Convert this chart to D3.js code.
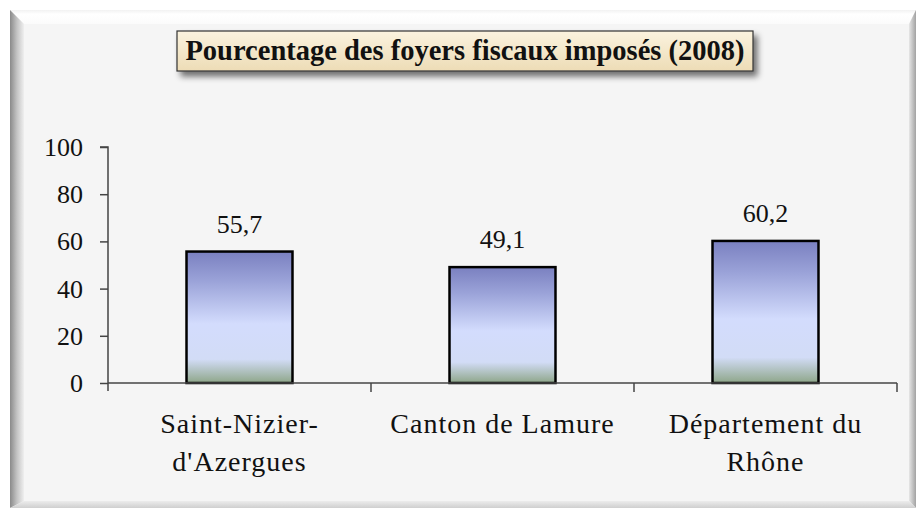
<!DOCTYPE html>
<html>
<head>
<meta charset="utf-8">
<script src="https://cdn.jsdelivr.net/npm/d3@7"></script>
<style>
  html, body { margin: 0; padding: 0; background: #ffffff; }
  svg { display: block; }
  text { font-family: "Liberation Serif", "DejaVu Serif", serif; fill: #111; }
</style>
</head>
<body>
<svg id="chart" width="917" height="509"></svg>
<script>
const title = "Pourcentage des foyers fiscaux imposés (2008)";
const categories = [["Saint-Nizier-", "d'Azergues"], ["Canton de Lamure"], ["Département du", "Rhône"]];
const values = [55.7, 49.1, 60.2];
const valueLabels = ["55,7", "49,1", "60,2"];
const yTicks = [0, 20, 40, 60, 80, 100];

const svg = d3.select("#chart");
const defs = svg.append("defs");

// gradients
const barGrad = defs.append("linearGradient").attr("id", "barGrad").attr("x1", 0).attr("y1", 0).attr("x2", 0).attr("y2", 1);
[[0, "#7a80c0"], [0.22, "#9aa2d8"], [0.55, "#d3dcfd"], [0.82, "#d2dcf6"], [1, "#8ea689"]].forEach(([o, c]) =>
  barGrad.append("stop").attr("offset", o).attr("stop-color", c));

const titleGrad = defs.append("linearGradient").attr("id", "titleGrad").attr("x1", 0).attr("y1", 0).attr("x2", 0).attr("y2", 1);
[[0, "#fbf3df"], [1, "#eddcb6"]].forEach(([o, c]) => titleGrad.append("stop").attr("offset", o).attr("stop-color", c));

const leftGrad = defs.append("linearGradient").attr("id", "leftGrad").attr("x1", 0).attr("y1", 0).attr("x2", 1).attr("y2", 0);
[[0, "#8a8a8a"], [0.5, "#c4c4c4"], [1, "#efefef"]].forEach(([o, c]) => leftGrad.append("stop").attr("offset", o).attr("stop-color", c));
const rightGrad = defs.append("linearGradient").attr("id", "rightGrad").attr("x1", 0).attr("y1", 0).attr("x2", 1).attr("y2", 0);
[[0, "#e6e6e6"], [1, "#a2a2a2"]].forEach(([o, c]) => rightGrad.append("stop").attr("offset", o).attr("stop-color", c));
const bottomGrad = defs.append("linearGradient").attr("id", "bottomGrad").attr("x1", 0).attr("y1", 0).attr("x2", 0).attr("y2", 1);
[[0, "#ececec"], [1, "#cfcfcf"]].forEach(([o, c]) => bottomGrad.append("stop").attr("offset", o).attr("stop-color", c));
const topGrad = defs.append("linearGradient").attr("id", "topGrad").attr("x1", 0).attr("y1", 0).attr("x2", 0).attr("y2", 1);
[[0, "#f2f2f2"], [0.3, "#ffffff"], [1, "#fbfbfb"]].forEach(([o, c]) => topGrad.append("stop").attr("offset", o).attr("stop-color", c));

const shadow = defs.append("filter").attr("id", "shadow").attr("x", "-10%").attr("y", "-30%").attr("width", "130%").attr("height", "190%");
shadow.append("feGaussianBlur").attr("in", "SourceAlpha").attr("stdDeviation", 3);
shadow.append("feOffset").attr("dx", 4).attr("dy", 5).attr("result", "ob");
shadow.append("feComponentTransfer").append("feFuncA").attr("type", "linear").attr("slope", 0.55);
const merge = shadow.append("feMerge");
merge.append("feMergeNode");
merge.append("feMergeNode").attr("in", "SourceGraphic");

// frame
const L = 10, T = 10, R = 916, B = 508, bl = 14, bt = 14, br = 7, bb = 7;
svg.append("rect").attr("x", L).attr("y", T).attr("width", R - L).attr("height", B - T).attr("fill", "#f5f5f5");
svg.append("polygon").attr("points", [[L, T], [R, T], [R - br, T + bt], [L + bl, T + bt]].join(" ")).attr("fill", "url(#topGrad)");
svg.append("polygon").attr("points", [[L, T], [L + bl, T + bt], [L + bl, B - bb], [L, B]].join(" ")).attr("fill", "url(#leftGrad)");
svg.append("polygon").attr("points", [[R, T], [R, B], [R - br, B - bb], [R - br, T + bt]].join(" ")).attr("fill", "url(#rightGrad)");
svg.append("polygon").attr("points", [[L, B], [R, B], [R - br, B - bb], [L + bl, B - bb]].join(" ")).attr("fill", "url(#bottomGrad)");

// scales
const x = d3.scaleBand().domain(d3.range(values.length)).range([108, 897]).paddingInner(0.597).paddingOuter(0.2985);
const xb = d3.scaleBand().domain(d3.range(values.length)).range([108, 897]);
const y = d3.scaleLinear().domain([0, 100]).range([383, 147]);

// y axis
const yAxis = svg.append("g").attr("transform", "translate(108,0)")
  .call(d3.axisLeft(y).tickValues(yTicks).tickSize(8).tickPadding(17).tickFormat(d3.format("d")));
yAxis.select(".domain").attr("d", "M-8,147H0V391").attr("stroke", "#444").attr("stroke-width", 1.5);
yAxis.selectAll(".tick line").attr("stroke", "#444").attr("stroke-width", 1.5);
yAxis.selectAll(".tick text").attr("font-size", 26).attr("fill", "#111").attr("dy", "0.33em");

// bars
svg.append("g").selectAll("rect").data(values).join("rect")
  .attr("x", (d, i) => x(i))
  .attr("y", d => y(d))
  .attr("width", x.bandwidth())
  .attr("height", d => y(0) - y(d))
  .attr("fill", "url(#barGrad)")
  .attr("stroke", "#000").attr("stroke-width", 2.5);

// x axis
const xg = svg.append("g");
xg.append("line").attr("x1", 108).attr("x2", 897).attr("y1", y(0)).attr("y2", y(0)).attr("stroke", "#444").attr("stroke-width", 1.5);
xg.selectAll("line.tk").data(d3.range(1, values.length + 1)).join("line").attr("class", "tk")
  .attr("x1", i => xb(0) + i * xb.step()).attr("x2", i => xb(0) + i * xb.step())
  .attr("y1", y(0)).attr("y2", y(0) + 9).attr("stroke", "#444").attr("stroke-width", 1.5);

// value labels
svg.append("g").selectAll("text").data(values).join("text")
  .attr("x", (d, i) => x(i) + x.bandwidth() / 2)
  .attr("y", d => y(d) - 19)
  .attr("text-anchor", "middle").attr("font-size", 26)
  .text((d, i) => valueLabels[i]);

// category labels
const cl = svg.append("g").selectAll("text").data(categories).join("text")
  .attr("x", (d, i) => xb(i) + xb.bandwidth() / 2)
  .attr("y", 433)
  .attr("text-anchor", "middle").attr("font-size", 28).attr("letter-spacing", 1);
cl.selectAll("tspan").data(d => d).join("tspan")
  .attr("x", function () { return this.parentNode.getAttribute("x"); })
  .attr("dy", (d, j) => j === 0 ? 0 : 38)
  .text(d => d);

// title
const tg = svg.append("g");
tg.append("rect").attr("x", 177).attr("y", 31).attr("width", 576).attr("height", 40)
  .attr("fill", "url(#titleGrad)").attr("stroke", "#333").attr("stroke-width", 1.2).attr("filter", "url(#shadow)");
tg.append("text").attr("x", 465).attr("y", 60).attr("text-anchor", "middle")
  .attr("font-size", 28.5).attr("font-weight", "bold").attr("fill", "#000").text(title);
</script>
</body>
</html>
